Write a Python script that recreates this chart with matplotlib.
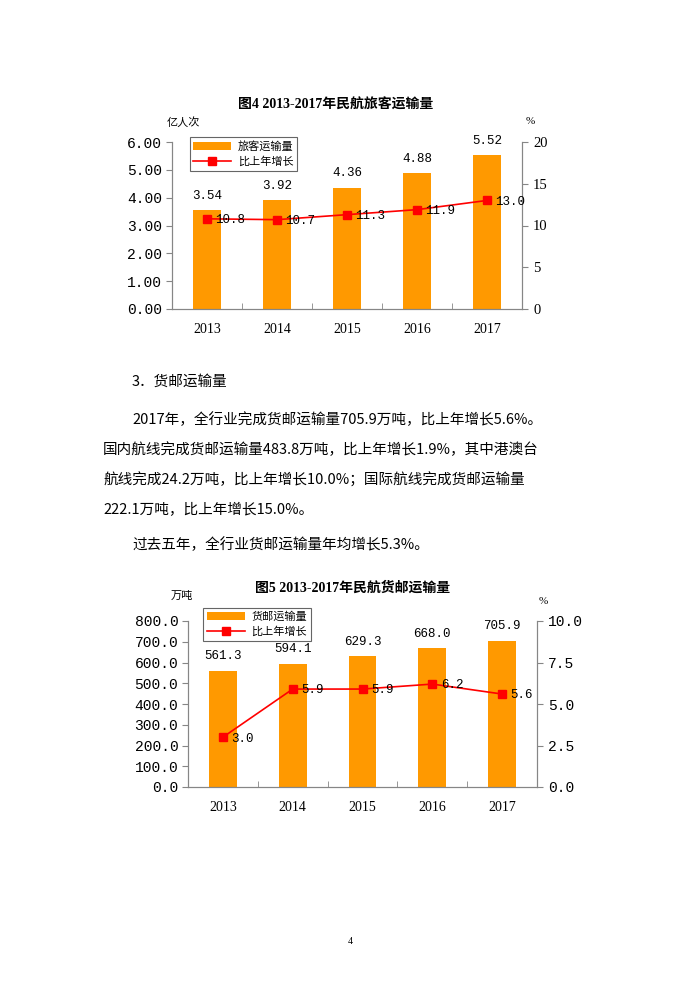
import matplotlib
matplotlib.use("Agg")
import matplotlib.pyplot as plt
from matplotlib.ticker import FixedLocator, FormatStrFormatter

plt.rcParams['font.family'] = ['Noto Sans CJK SC', 'DejaVu Sans']

years = ['2013', '2014', '2015', '2016', '2017']

# 图4 旅客运输量
pax = [3.54, 3.92, 4.36, 4.88, 5.52]
pax_growth = [10.8, 10.7, 11.3, 11.9, 13.0]

# 图5 货邮运输量
cargo = [561.3, 594.1, 629.3, 668.0, 705.9]
cargo_growth = [3.0, 5.9, 5.9, 6.2, 5.6]

para_lines = [
    "2017年，全行业完成货邮运输量705.9万吨，比上年增长5.6%。",
    "国内航线完成货邮运输量483.8万吨，比上年增长1.9%，其中港澳台",
    "航线完成24.2万吨，比上年增长10.0%；国际航线完成货邮运输量",
    "222.1万吨，比上年增长15.0%。",
]
last_line = "过去五年，全行业货邮运输量年均增长5.3%。"

W, H = 700, 990
BAR_C = '#FF9900'
LINE_C = '#FF0000'
SPINE_C = '#868686'
NUM_FONT = ['Liberation Mono', 'Noto Sans CJK SC']
YEAR_FONT = ['Liberation Serif', 'Noto Sans CJK SC']

fig = plt.figure(figsize=(7, 9.9), dpi=100)
fig.patch.set_facecolor('white')


def px_axes(x0, y0, x1, y1):
    return fig.add_axes([x0 / W, 1 - y1 / H, (x1 - x0) / W, (y1 - y0) / H])


def ftext(x, y, s, **kw):
    fig.text(x / W, 1 - y / H, s, **kw)


def combo(rect, bars, growth, ylim, ystep, yfmt, rlim, rstep, rfmt, bar_fmt, names, leg_anchor):
    ax = px_axes(*rect)
    xs = range(len(years))
    ax.bar(xs, bars, width=0.4, color=BAR_C, label=names[0], zorder=2)
    ax.set_xlim(-0.5, len(years) - 0.5)
    ax.set_ylim(*ylim)
    ax.yaxis.set_major_locator(FixedLocator([ylim[0] + i * ystep for i in range(int(round((ylim[1] - ylim[0]) / ystep)) + 1)]))
    ax.yaxis.set_major_formatter(FormatStrFormatter(yfmt))
    ax.set_xticks(list(xs))
    ax.set_xticklabels(years, fontfamily=YEAR_FONT, fontsize=10)
    ax.set_xticks([i + 0.5 for i in range(len(years) - 1)], minor=True)
    ax.tick_params(axis='x', which='major', length=0, pad=10)
    ax.tick_params(axis='x', which='minor', direction='in', length=4, color=SPINE_C)
    ax.tick_params(axis='y', direction='out', length=4, color=SPINE_C, pad=3)
    for lab in ax.get_yticklabels():
        lab.set_fontfamily(NUM_FONT)
        lab.set_fontsize(10.5)
    ax.spines['top'].set_visible(False)
    for sp in ['left', 'bottom', 'right']:
        ax.spines[sp].set_color(SPINE_C)
    for i, v in enumerate(bars):
        ax.annotate(bar_fmt % v, (i, v), xytext=(0, 6), textcoords='offset points',
                    ha='center', va='bottom', fontsize=9, fontfamily=NUM_FONT)

    ax2 = ax.twinx()
    ax2.plot(list(xs), growth, color=LINE_C, lw=1.2, marker='s', ms=5.5,
             mec=LINE_C, mfc=LINE_C, label=names[1], zorder=3)
    ax2.set_ylim(*rlim)
    ax2.yaxis.set_major_locator(FixedLocator([rlim[0] + i * rstep for i in range(int(round((rlim[1] - rlim[0]) / rstep)) + 1)]))
    ax2.yaxis.set_major_formatter(FormatStrFormatter(rfmt))
    ax2.tick_params(axis='y', direction='out', length=4, color=SPINE_C, pad=4)
    for lab in ax2.get_yticklabels():
        lab.set_fontfamily(NUM_FONT if '.' in rfmt else YEAR_FONT)
        lab.set_fontsize(10.5)
    ax2.spines['top'].set_visible(False)
    for sp in ['left', 'bottom', 'right']:
        ax2.spines[sp].set_color(SPINE_C)
    for i, v in enumerate(growth):
        ax2.annotate('%.1f' % v, (i, v), xytext=(6, -1), textcoords='offset points',
                     ha='left', va='center', fontsize=9, fontfamily=NUM_FONT, zorder=4)

    h1, l1 = ax.get_legend_handles_labels()
    h2, l2 = ax2.get_legend_handles_labels()
    leg = ax2.legend(h1 + h2, l1 + l2, loc='upper left', bbox_to_anchor=leg_anchor,
                     fontsize=8, frameon=True, fancybox=False, edgecolor='#404040',
                     handlelength=3.4, borderpad=0.35, labelspacing=0.4, handletextpad=0.6,
                     borderaxespad=0)
    leg.get_frame().set_linewidth(0.8)
    return ax, ax2


# chart 1
combo((172, 142, 522, 309), pax, pax_growth, (0, 6), 1, '%.2f', (0, 20), 5, '%d', '%.2f',
      ['旅客运输量', '比上年增长'], (0.05, 1.03))
ftext(336, 105, '图4 2013-2017年民航旅客运输量', ha='center', va='center',
      fontsize=10, fontweight='bold', fontfamily=YEAR_FONT)
ftext(183, 122, '亿人次', ha='center', va='center', fontsize=8)
ftext(530, 122, '%', ha='center', va='center', fontsize=8, fontfamily=YEAR_FONT)

# text section
ftext(132, 382, '3．货邮运输量', ha='left', va='center', fontsize=10.5)
ftext(132, 420, para_lines[0], ha='left', va='center', fontsize=10.5)
for k, line in enumerate(para_lines[1:]):
    ftext(103, 450 + 30 * k, line, ha='left', va='center', fontsize=10.5)
ftext(132, 545, last_line, ha='left', va='center', fontsize=10.5)

# chart 2
combo((188, 621, 537, 787), cargo, cargo_growth, (0, 800), 100, '%.1f', (0, 10), 2.5, '%.1f', '%.1f',
      ['货邮运输量', '比上年增长'], (0.043, 1.08))
ftext(353, 588, '图5 2013-2017年民航货邮运输量', ha='center', va='center',
      fontsize=10, fontweight='bold', fontfamily=YEAR_FONT)
ftext(182, 596, '万吨', ha='center', va='center', fontsize=8)
ftext(543, 602, '%', ha='center', va='center', fontsize=8, fontfamily=YEAR_FONT)

ftext(350, 942, '4', ha='center', va='center', fontsize=7, fontfamily=YEAR_FONT)

fig.savefig('out.png', dpi=100, facecolor='white')
